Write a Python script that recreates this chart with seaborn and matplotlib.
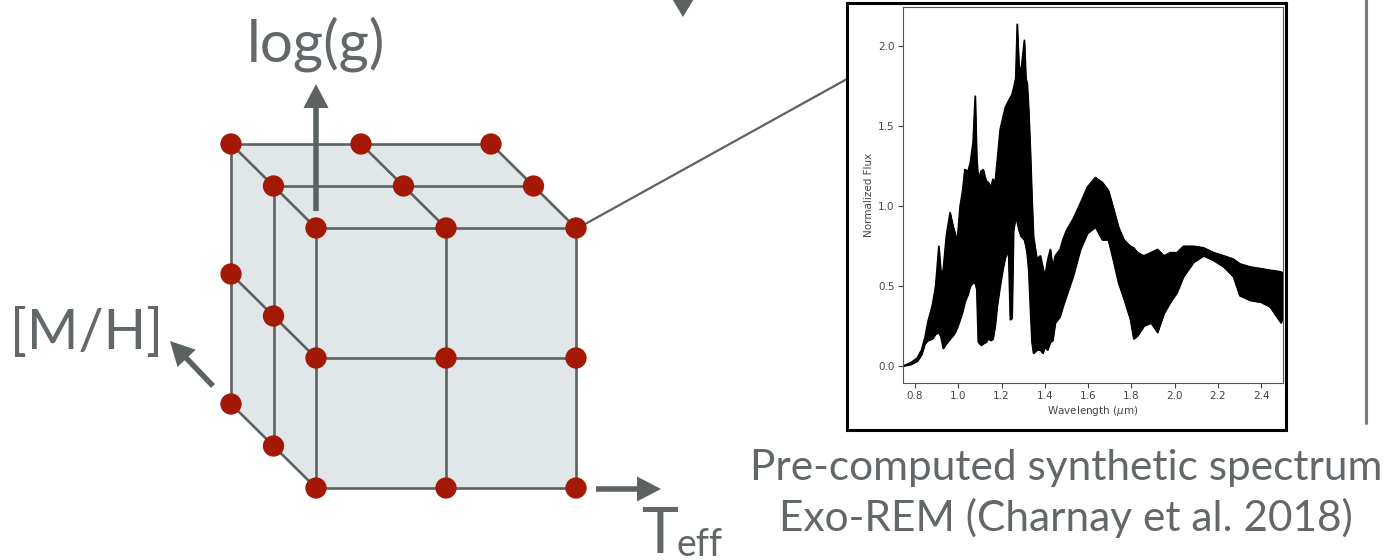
import numpy as np
import pandas as pd
import matplotlib
matplotlib.use("Agg")
import matplotlib.pyplot as plt
from matplotlib.patches import FancyArrow, Polygon
import seaborn as sns

# ---------------------------------------------------------------- data
# Model grid: three levels per parameter (index along each axis)
teff_levels = [0, 1, 2]
logg_levels = [0, 1, 2]
mh_levels = [0, 1, 2]

# Synthetic spectrum: wavelength (micron) with lower / upper envelope of the flux
wavelength = [0.745, 0.78, 0.81, 0.83, 0.846, 0.86, 0.88, 0.895, 0.91, 0.92,
              0.93, 0.945, 0.962, 0.975, 0.985, 0.995, 1.008, 1.02, 1.03, 1.045,
              1.055, 1.068, 1.078, 1.085, 1.092, 1.105, 1.115, 1.128, 1.138, 1.15,
              1.16, 1.17, 1.18, 1.193, 1.205, 1.217, 1.232, 1.24, 1.248, 1.255,
              1.265, 1.272, 1.28, 1.29, 1.298, 1.305, 1.312, 1.318, 1.325, 1.333,
              1.34, 1.347, 1.363, 1.379, 1.39, 1.40, 1.412, 1.425, 1.436, 1.448,
              1.47, 1.485, 1.50, 1.53, 1.564, 1.596, 1.633, 1.665, 1.693, 1.718,
              1.74, 1.765, 1.795, 1.81, 1.828, 1.857, 1.89, 1.92, 1.95, 1.98,
              2.01, 2.04, 2.087, 2.133, 2.18, 2.226, 2.27, 2.30, 2.35, 2.397,
              2.44, 2.49, 2.50]
flux_low = [0.00, 0.01, 0.03, 0.07, 0.14, 0.16, 0.17, 0.20, 0.21, 0.18,
            0.11, 0.14, 0.17, 0.19, 0.21, 0.24, 0.29, 0.34, 0.40, 0.45,
            0.50, 0.52, 0.52, 0.48, 0.15, 0.13, 0.14, 0.15, 0.17, 0.16,
            0.17, 0.25, 0.38, 0.50, 0.60, 0.68, 0.72, 0.29, 0.30, 0.85,
            0.93, 0.90, 0.85, 0.81, 0.80, 0.79, 0.75, 0.70, 0.60, 0.35,
            0.15, 0.08, 0.10, 0.10, 0.08, 0.12, 0.10, 0.15, 0.16, 0.27,
            0.31, 0.38, 0.44, 0.56, 0.73, 0.83, 0.87, 0.79, 0.79, 0.65,
            0.52, 0.42, 0.29, 0.17, 0.19, 0.25, 0.27, 0.21, 0.33, 0.40,
            0.46, 0.56, 0.65, 0.69, 0.66, 0.62, 0.56, 0.44, 0.41, 0.40,
            0.37, 0.27, 0.30]
flux_high = [0.00, 0.02, 0.05, 0.10, 0.18, 0.28, 0.38, 0.50, 0.75, 0.58,
             0.60, 0.82, 0.96, 0.88, 0.83, 0.78, 1.00, 1.10, 1.23, 1.22,
             1.27, 1.40, 1.69, 1.30, 1.17, 1.22, 1.23, 1.16, 1.15, 1.12,
             1.17, 1.15, 1.29, 1.48, 1.55, 1.62, 1.66, 1.68, 1.70, 1.74,
             1.80, 2.14, 1.88, 1.85, 1.95, 2.04, 1.80, 1.77, 1.60, 1.33,
             1.05, 0.81, 0.67, 0.69, 0.62, 0.56, 0.66, 0.73, 0.62, 0.69,
             0.73, 0.80, 0.85, 0.92, 1.02, 1.12, 1.18, 1.15, 1.10, 0.98,
             0.87, 0.79, 0.75, 0.74, 0.71, 0.69, 0.71, 0.73, 0.69, 0.71,
             0.71, 0.75, 0.75, 0.74, 0.71, 0.69, 0.67, 0.64, 0.62, 0.61,
             0.60, 0.59, 0.58]

wl_ticks = [0.8, 1.0, 1.2, 1.4, 1.6, 1.8, 2.0, 2.2, 2.4]
flux_ticks = [0.0, 0.5, 1.0, 1.5, 2.0]

# ---------------------------------------------------------------- style
sns.set_theme(style="white")
plt.rcParams["font.family"] = ["Lato", "DejaVu Sans"]

GREY = "#5c6161"
DOT = "#a31905"
FILL = "#e1e6e8"
TXT = "#62676a"

W, H = 1390, 560
fig = plt.figure(figsize=(W / 100, H / 100), dpi=100)
fig.patch.set_facecolor("white")

# canvas axes in pixel units (y grows downward)
ax = fig.add_axes([0, 0, 1, 1])

# oblique projection of the grid
ORIGIN = (316.0, 488.0)
STEP_T = 130.0
STEP_G = 130.0
DEPTH = (-42.5, -42.0)


def project(i, j, k):
    x = ORIGIN[0] + i * STEP_T + k * DEPTH[0]
    y = ORIGIN[1] - j * STEP_G + k * DEPTH[1]
    return x, y


tmax, gmax, mmax = teff_levels[-1], logg_levels[-1], mh_levels[-1]

# shaded box (front + top + left faces)
outline = [project(0, 0, 0), project(tmax, 0, 0), project(tmax, gmax, 0),
           project(tmax, gmax, mmax), project(0, gmax, mmax), project(0, 0, mmax)]
ax.add_patch(Polygon(outline, closed=True, facecolor=FILL, edgecolor="none", zorder=1))

# grid lines on the three visible faces
segments = []
for j in logg_levels:
    segments.append(((0, j, 0), (tmax, j, 0)))
for i in teff_levels:
    segments.append(((i, 0, 0), (i, gmax, 0)))
for k in mh_levels[1:]:
    segments.append(((0, gmax, k), (tmax, gmax, k)))
    segments.append(((0, 0, k), (0, gmax, k)))
for i in teff_levels:
    segments.append(((i, gmax, 0), (i, gmax, mmax)))
for j in logg_levels[:-1]:
    segments.append(((0, j, 0), (0, j, mmax)))
for a, b in segments:
    (x0, y0), (x1, y1) = project(*a), project(*b)
    ax.plot([x0, x1], [y0, y1], color=GREY, lw=1.9, solid_capstyle="butt", zorder=2)

# visible grid nodes
nodes = [(i, j, k) for i in teff_levels for j in logg_levels for k in mh_levels
         if k == 0 or j == gmax or i == 0]
node_df = pd.DataFrame([project(*n) for n in nodes], columns=["x", "y"])
sns.scatterplot(data=node_df, x="x", y="y", ax=ax, s=235, color=DOT,
                edgecolor="none", zorder=5, legend=False)
ax.set_xlim(0, W)
ax.set_ylim(H, 0)
ax.axis("off")

# parameter axes arrows
arrow_kw = dict(width=5.5, head_width=25, head_length=24,
                length_includes_head=True, color=GREY, lw=0, zorder=4)
ax.add_patch(FancyArrow(316, 211, 0, -127, **arrow_kw))          # log(g)
ax.add_patch(FancyArrow(596, 489, 65, 0, **arrow_kw))             # Teff
ax.add_patch(FancyArrow(213, 386, -43, -45, **arrow_kw))          # [M/H]
ax.add_patch(FancyArrow(683, -30, 0, 47, width=5.5, head_width=24,
                        head_length=20, length_includes_head=True,
                        color=GREY, lw=0, zorder=4))

# labels of the parameter axes
label_kw = dict(va="baseline", color=TXT, fontweight="normal")
ax.text(316, 61, "log(g)", ha="center", fontsize=42, **label_kw)
ax.text(10, 349, "[M/H]", ha="left", fontsize=40, **label_kw)
ax.text(641, 553, "T", ha="left", fontsize=45, **label_kw)
ax.text(677, 556, "eff", ha="left", fontsize=27, **label_kw)

# link from the grid corner to the spectrum
cx, cy = project(tmax, gmax, 0)
ax.plot([cx + 2, 847], [cy, 79], color=GREY, lw=1.6, zorder=3)

# right separator
ax.plot([1366, 1366], [0, 423], color="#7a7d7d", lw=2.2, zorder=1)

# caption
ax.text(1066, 480, "Pre-computed synthetic spectrum", ha="center", fontsize=30.5,
        **label_kw)
ax.text(1066, 531, "Exo-REM (Charnay et al. 2018)", ha="center", fontsize=30.5,
        **label_kw)

# ---------------------------------------------------------------- spectrum inset
frame = fig.add_axes([847 / W, 1 - 430 / H, (1286 - 847) / W, 427 / H])
frame.set_xticks([])
frame.set_yticks([])
frame.set_facecolor("white")
for s in frame.spines.values():
    s.set_color("black")
    s.set_linewidth(2.2)

inset = fig.add_axes([903 / W, 1 - 383 / H, (1283 - 903) / W, (383 - 7) / H])
spec = pd.DataFrame({"wl": wavelength, "lo": flux_low, "hi": flux_high})
inset.fill_between(spec["wl"], spec["lo"], spec["hi"], color="black", lw=0.9,
                   edgecolor="black")
sns.lineplot(data=spec, x="wl", y="hi", ax=inset, color="black", lw=1.0,
             estimator=None, sort=False)
sns.lineplot(data=spec, x="wl", y="lo", ax=inset, color="black", lw=1.0,
             estimator=None, sort=False)
inset.set_xlim(0.745, 2.5)
inset.set_ylim(-0.107, 2.247)
inset.set_xticks(wl_ticks)
inset.set_yticks(flux_ticks)
inset.set_xticklabels([f"{v:.1f}" for v in wl_ticks], family="DejaVu Sans")
inset.set_yticklabels([f"{v:.1f}" for v in flux_ticks], family="DejaVu Sans")
inset.tick_params(axis="both", which="both", bottom=True, left=True, length=3.5,
                  width=0.8, color="#444444", labelsize=7.5, labelcolor="#444444",
                  pad=2.5)
inset.set_xlabel("Wavelength ($\\mu$m)", fontsize=7.5, color="#444444",
                 family="DejaVu Sans", labelpad=2)
inset.set_ylabel("Normalized Flux", fontsize=7.5, color="#444444",
                 family="DejaVu Sans", labelpad=3)
inset.set_facecolor("white")
for s in inset.spines.values():
    s.set_color("#555555")
    s.set_linewidth(0.8)
inset.grid(False)

fig.savefig("out.png", dpi=100, facecolor="white")
